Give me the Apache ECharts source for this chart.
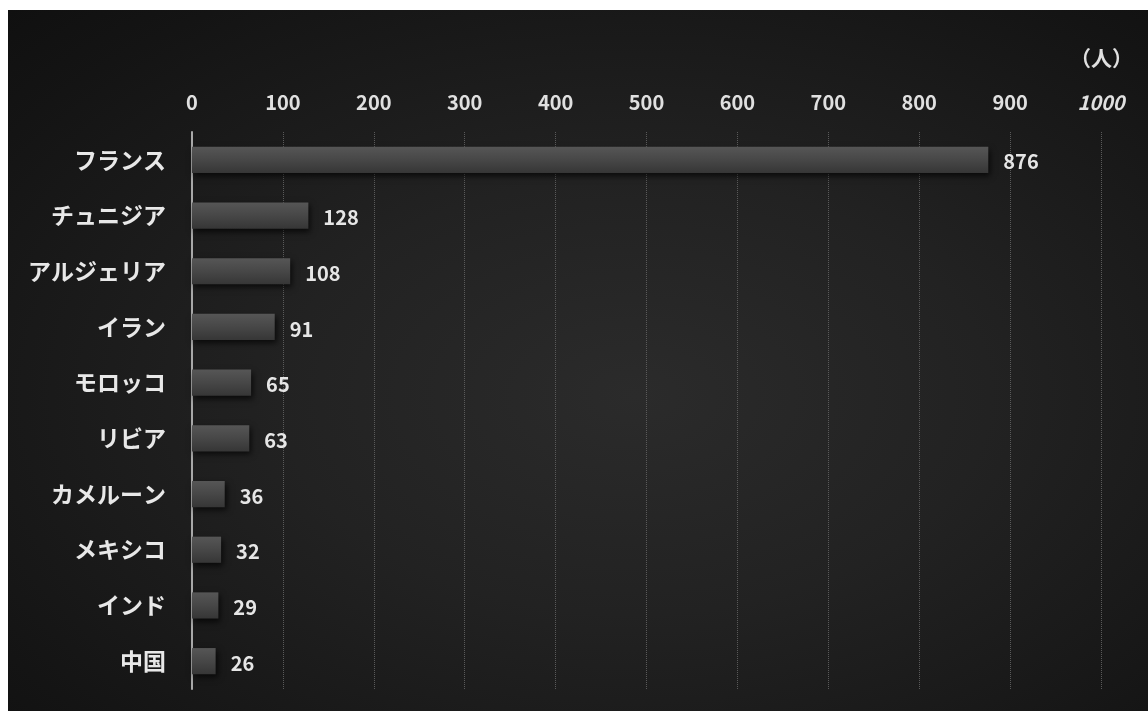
<!DOCTYPE html>
<html>
<head>
<meta charset="utf-8">
<script src="https://cdn.jsdelivr.net/npm/echarts@6/dist/echarts.min.js"></script>
<style>
  html, body { margin: 0; padding: 0; background: #ffffff; }
  #chart {
    position: absolute; left: 8px; top: 10px; width: 1140px; height: 701px;
    background: radial-gradient(ellipse at 55% 55%, #2b2b2b 0%, #222222 40%, #141414 85%, #101010 100%);
  }
</style>
</head>
<body>
<div id="chart"></div>
<script>
// Countries, in ranking order
const countries = ['フランス', 'チュニジア', 'アルジェリア', 'イラン', 'モロッコ', 'リビア', 'カメルーン', 'メキシコ', 'インド', '中国'];
// Number of people per country
const people = [876, 128, 108, 91, 65, 63, 36, 32, 29, 26];
// Scale ticks along the top axis
const tickValues = [0, 100, 200, 300, 400, 500, 600, 700, 800, 900, 1000];
const unitLabel = '（人）';

const font = '"Noto Sans CJK JP", "Noto Sans", sans-serif';
const chart = echarts.init(document.getElementById('chart'), null, { renderer: 'canvas' });

chart.setOption({
  backgroundColor: 'transparent',
  animation: false,
  grid: { left: 184, right: 47, top: 122, bottom: 22, containLabel: false },
  xAxis: {
    type: 'value',
    position: 'top',
    min: tickValues[0],
    max: tickValues[tickValues.length - 1],
    interval: tickValues[1] - tickValues[0],
    axisLine: { show: false },
    axisTick: { show: false },
    axisLabel: {
      margin: 20,
      color: '#e0e0e0',
      fontFamily: font,
      fontWeight: 'bold',
      fontSize: 20,
      formatter: v => v === tickValues[tickValues.length - 1] ? '{last|' + v + '}' : String(v),
      rich: { last: { fontStyle: 'italic', fontWeight: 'bold', fontSize: 20, color: '#e0e0e0', fontFamily: font } }
    },
    splitLine: { show: true, lineStyle: { color: '#5a5a5a', type: 'dotted', width: 1 } }
  },
  yAxis: {
    type: 'category',
    inverse: true,
    data: countries,
    axisLine: { show: true, lineStyle: { color: '#a8a8a8', width: 2 } },
    axisTick: { show: false },
    axisLabel: {
      margin: 26,
      color: '#e8e8e8',
      fontFamily: font,
      fontWeight: 'bold',
      fontSize: 23
    }
  },
  series: [{
    type: 'bar',
    data: people,
    barWidth: '47%',
    itemStyle: {
      color: new echarts.graphic.LinearGradient(0, 0, 0, 1, [
        { offset: 0, color: '#565656' },
        { offset: 0.5, color: '#474747' },
        { offset: 1, color: '#363636' }
      ]),
      shadowColor: 'rgba(0,0,0,0.7)',
      shadowBlur: 6,
      shadowOffsetX: 2,
      shadowOffsetY: 3
    },
    label: {
      show: true,
      position: 'right',
      distance: 15,
      offset: [0, 2],
      color: '#e6e6e6',
      fontFamily: font,
      fontWeight: 'bold',
      fontSize: 20
    }
  }],
  graphic: [{
    type: 'text',
    right: 15,
    top: 38,
    style: { text: unitLabel, fill: '#e0e0e0', font: 'bold 21px ' + font }
  }]
});
</script>
</body>
</html>
